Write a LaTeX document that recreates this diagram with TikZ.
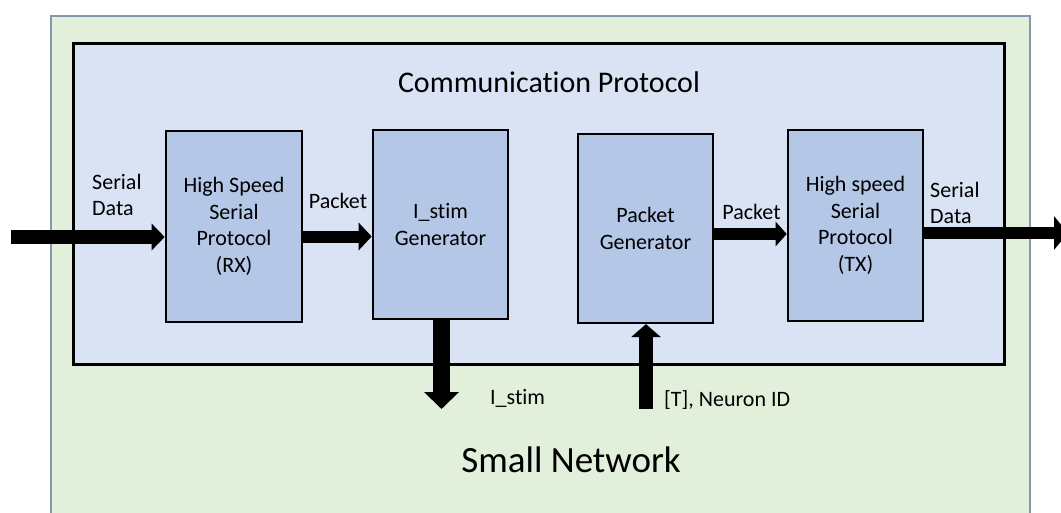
\documentclass[tikz,border=0pt]{standalone}
\usepackage{fontspec}
\setmainfont{Carlito}[Ligatures=NoCommon]
\usetikzlibrary{arrows.meta}

\definecolor{netfill}{HTML}{E2EFDA}
\definecolor{netline}{HTML}{8497B0}
\definecolor{protofill}{HTML}{DAE3F3}
\definecolor{blockfill}{HTML}{B4C7E7}

\tikzset{
  block/.style={draw=black, line width=2.6pt, fill=blockfill,
    minimum width=135pt, minimum height=190pt, inner sep=0pt,
    align=center, font=\fontsize{22}{26.7}\selectfont},
  lbl/.style={inner sep=0pt, align=left, font=\fontsize{22}{26.5}\selectfont},
  fatarrow/.style={draw=black, line width=#1},
}

\begin{document}
\begin{tikzpicture}[x=1pt, y=-1pt]
  \useasboundingbox (0,0) rectangle (1061,512);

  % containers
  \begin{scope}
    \clip (0,0) rectangle (1061,512);
    \node[draw=netline, line width=1.5pt, fill=netfill, minimum width=979pt,
          minimum height=530pt, inner sep=0pt, anchor=north west] (net) at (50,15) {};
  \end{scope}
  \node[draw=black, line width=3pt, fill=protofill, minimum width=931pt,
        minimum height=321pt, inner sep=0pt] (proto) at (538.5,203.5) {};

  \node[font=\fontsize{30}{36}\selectfont, inner sep=0pt] (ptitle) at (549,82) {Communication Protocol};
  \node[font=\fontsize{37}{44}\selectfont, inner sep=0pt] (ntitle) at (571,460) {Small Network};

  % functional blocks
  \node[block, minimum width=136pt, minimum height=191pt] (rx) at (234,226.5)
    {High Speed\\Serial\\Protocol\\(RX)};
  \node[block, minimum height=189pt] (istim) at (440.5,224.5) {I\_stim\\Generator};
  \node[block, minimum height=189pt] (pgen) at (645.5,228.3) {Packet\\Generator};
  \node[block, minimum height=191pt] (tx) at (855.5,225.5)
    {High speed\\Serial\\Protocol\\(TX)};

  % free ends of the connectors
  \coordinate (inStart) at (11,237);
  \coordinate (outEnd) at (1068,233);
  \coordinate (stimEnd) at (441.5,409);
  \coordinate (nidStart) at (646,409);

  % connectors
  \draw[fatarrow=13.5pt, -{Triangle[width=26pt,length=13pt]}]
    (inStart) -- (inStart -| rx.west);
  \draw[fatarrow=12pt, -{Triangle[width=27pt,length=13pt]}]
    (rx.east |- 0,236.5) -- (istim.west |- 0,236.5);
  \draw[fatarrow=11.5pt, -{Triangle[width=24pt,length=11pt]}]
    (pgen.east |- 0,234) -- (tx.west |- 0,234);
  \draw[fatarrow=12.5pt, -{Triangle[width=33pt,length=14pt]}]
    (tx.east |- outEnd) -- (outEnd);
  \draw[fatarrow=16.5pt, -{Triangle[width=34pt,length=17pt]}]
    (istim.south -| stimEnd) -- (stimEnd);
  \draw[fatarrow=14.5pt, -{Triangle[width=29pt,length=13pt]}]
    (nidStart) -- (nidStart |- pgen.south);

  % connector labels
  \node[lbl, anchor=west] (sdin) at (92,195) {Serial\\Data};
  \node[lbl] (pk1) at (338,201) {Packet};
  \node[lbl] (pk2) at (751.5,212) {Packet};
  \node[lbl, anchor=west] (sdout) at (930,203) {Serial\\Data};
  \node[lbl, anchor=west] (stimlbl) at (490,398) {I\_stim};
  \node[lbl, anchor=west] (nidlbl) at (664,400) {[T], Neuron ID};
\end{tikzpicture}
\end{document}
